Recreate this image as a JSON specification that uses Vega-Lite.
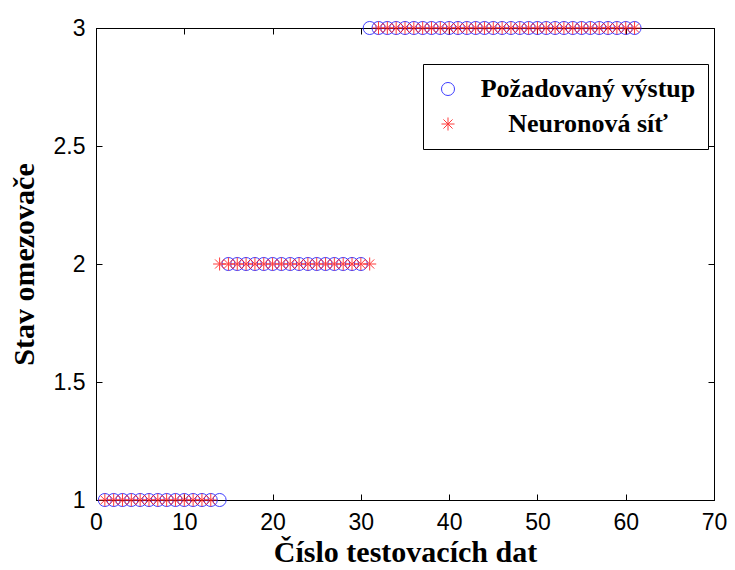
{
  "$schema": "https://vega.github.io/schema/vega-lite/v6.json",
  "width": 618,
  "height": 472,
  "autosize": {"type": "none"},
  "padding": {"left": 96, "top": 28, "right": 21, "bottom": 70},
  "background": "white",
  "config": {
    "view": {"stroke": "black", "strokeWidth": 1},
    "axis": {
      "grid": false,
      "domainColor": "black",
      "tickColor": "black",
      "tickSize": -6,
      "labelFont": "Liberation Sans",
      "labelFontSize": 23,
      "labelColor": "black",
      "titleFont": "Liberation Serif",
      "titleFontWeight": "bold",
      "titleFontSize": 30,
      "titleColor": "black"
    },
    "legend": {
      "orient": "none",
      "legendX": 327,
      "legendY": 36,
      "strokeColor": "black",
      "fillColor": "white",
      "padding": 12,
      "rowPadding": 9,
      "labelFont": "Liberation Serif",
      "labelFontWeight": "bold",
      "labelFontSize": 26,
      "labelColor": "black",
      "labelAlign": "center",
      "labelOffset": 127,
      "symbolSize": 170,
      "symbolStrokeWidth": 1,
      "labelLimit": 400
    }
  },
  "data": {
    "values": [
      {"x":1,"y":1,"s":"Požadovaný výstup"},{"x":2,"y":1,"s":"Požadovaný výstup"},{"x":3,"y":1,"s":"Požadovaný výstup"},{"x":4,"y":1,"s":"Požadovaný výstup"},{"x":5,"y":1,"s":"Požadovaný výstup"},{"x":6,"y":1,"s":"Požadovaný výstup"},{"x":7,"y":1,"s":"Požadovaný výstup"},{"x":8,"y":1,"s":"Požadovaný výstup"},{"x":9,"y":1,"s":"Požadovaný výstup"},{"x":10,"y":1,"s":"Požadovaný výstup"},{"x":11,"y":1,"s":"Požadovaný výstup"},{"x":12,"y":1,"s":"Požadovaný výstup"},{"x":13,"y":1,"s":"Požadovaný výstup"},{"x":14,"y":1,"s":"Požadovaný výstup"},
      {"x":15,"y":2,"s":"Požadovaný výstup"},{"x":16,"y":2,"s":"Požadovaný výstup"},{"x":17,"y":2,"s":"Požadovaný výstup"},{"x":18,"y":2,"s":"Požadovaný výstup"},{"x":19,"y":2,"s":"Požadovaný výstup"},{"x":20,"y":2,"s":"Požadovaný výstup"},{"x":21,"y":2,"s":"Požadovaný výstup"},{"x":22,"y":2,"s":"Požadovaný výstup"},{"x":23,"y":2,"s":"Požadovaný výstup"},{"x":24,"y":2,"s":"Požadovaný výstup"},{"x":25,"y":2,"s":"Požadovaný výstup"},{"x":26,"y":2,"s":"Požadovaný výstup"},{"x":27,"y":2,"s":"Požadovaný výstup"},{"x":28,"y":2,"s":"Požadovaný výstup"},{"x":29,"y":2,"s":"Požadovaný výstup"},{"x":30,"y":2,"s":"Požadovaný výstup"},
      {"x":31,"y":3,"s":"Požadovaný výstup"},{"x":32,"y":3,"s":"Požadovaný výstup"},{"x":33,"y":3,"s":"Požadovaný výstup"},{"x":34,"y":3,"s":"Požadovaný výstup"},{"x":35,"y":3,"s":"Požadovaný výstup"},{"x":36,"y":3,"s":"Požadovaný výstup"},{"x":37,"y":3,"s":"Požadovaný výstup"},{"x":38,"y":3,"s":"Požadovaný výstup"},{"x":39,"y":3,"s":"Požadovaný výstup"},{"x":40,"y":3,"s":"Požadovaný výstup"},{"x":41,"y":3,"s":"Požadovaný výstup"},{"x":42,"y":3,"s":"Požadovaný výstup"},{"x":43,"y":3,"s":"Požadovaný výstup"},{"x":44,"y":3,"s":"Požadovaný výstup"},{"x":45,"y":3,"s":"Požadovaný výstup"},{"x":46,"y":3,"s":"Požadovaný výstup"},{"x":47,"y":3,"s":"Požadovaný výstup"},{"x":48,"y":3,"s":"Požadovaný výstup"},{"x":49,"y":3,"s":"Požadovaný výstup"},{"x":50,"y":3,"s":"Požadovaný výstup"},{"x":51,"y":3,"s":"Požadovaný výstup"},{"x":52,"y":3,"s":"Požadovaný výstup"},{"x":53,"y":3,"s":"Požadovaný výstup"},{"x":54,"y":3,"s":"Požadovaný výstup"},{"x":55,"y":3,"s":"Požadovaný výstup"},{"x":56,"y":3,"s":"Požadovaný výstup"},{"x":57,"y":3,"s":"Požadovaný výstup"},{"x":58,"y":3,"s":"Požadovaný výstup"},{"x":59,"y":3,"s":"Požadovaný výstup"},{"x":60,"y":3,"s":"Požadovaný výstup"},{"x":61,"y":3,"s":"Požadovaný výstup"},
      {"x":1,"y":1,"s":"Neuronová síť"},{"x":2,"y":1,"s":"Neuronová síť"},{"x":3,"y":1,"s":"Neuronová síť"},{"x":4,"y":1,"s":"Neuronová síť"},{"x":5,"y":1,"s":"Neuronová síť"},{"x":6,"y":1,"s":"Neuronová síť"},{"x":7,"y":1,"s":"Neuronová síť"},{"x":8,"y":1,"s":"Neuronová síť"},{"x":9,"y":1,"s":"Neuronová síť"},{"x":10,"y":1,"s":"Neuronová síť"},{"x":11,"y":1,"s":"Neuronová síť"},{"x":12,"y":1,"s":"Neuronová síť"},{"x":13,"y":1,"s":"Neuronová síť"},
      {"x":14,"y":2,"s":"Neuronová síť"},{"x":15,"y":2,"s":"Neuronová síť"},{"x":16,"y":2,"s":"Neuronová síť"},{"x":17,"y":2,"s":"Neuronová síť"},{"x":18,"y":2,"s":"Neuronová síť"},{"x":19,"y":2,"s":"Neuronová síť"},{"x":20,"y":2,"s":"Neuronová síť"},{"x":21,"y":2,"s":"Neuronová síť"},{"x":22,"y":2,"s":"Neuronová síť"},{"x":23,"y":2,"s":"Neuronová síť"},{"x":24,"y":2,"s":"Neuronová síť"},{"x":25,"y":2,"s":"Neuronová síť"},{"x":26,"y":2,"s":"Neuronová síť"},{"x":27,"y":2,"s":"Neuronová síť"},{"x":28,"y":2,"s":"Neuronová síť"},{"x":29,"y":2,"s":"Neuronová síť"},{"x":30,"y":2,"s":"Neuronová síť"},{"x":31,"y":2,"s":"Neuronová síť"},
      {"x":32,"y":3,"s":"Neuronová síť"},{"x":33,"y":3,"s":"Neuronová síť"},{"x":34,"y":3,"s":"Neuronová síť"},{"x":35,"y":3,"s":"Neuronová síť"},{"x":36,"y":3,"s":"Neuronová síť"},{"x":37,"y":3,"s":"Neuronová síť"},{"x":38,"y":3,"s":"Neuronová síť"},{"x":39,"y":3,"s":"Neuronová síť"},{"x":40,"y":3,"s":"Neuronová síť"},{"x":41,"y":3,"s":"Neuronová síť"},{"x":42,"y":3,"s":"Neuronová síť"},{"x":43,"y":3,"s":"Neuronová síť"},{"x":44,"y":3,"s":"Neuronová síť"},{"x":45,"y":3,"s":"Neuronová síť"},{"x":46,"y":3,"s":"Neuronová síť"},{"x":47,"y":3,"s":"Neuronová síť"},{"x":48,"y":3,"s":"Neuronová síť"},{"x":49,"y":3,"s":"Neuronová síť"},{"x":50,"y":3,"s":"Neuronová síť"},{"x":51,"y":3,"s":"Neuronová síť"},{"x":52,"y":3,"s":"Neuronová síť"},{"x":53,"y":3,"s":"Neuronová síť"},{"x":54,"y":3,"s":"Neuronová síť"},{"x":55,"y":3,"s":"Neuronová síť"},{"x":56,"y":3,"s":"Neuronová síť"},{"x":57,"y":3,"s":"Neuronová síť"},{"x":58,"y":3,"s":"Neuronová síť"},{"x":59,"y":3,"s":"Neuronová síť"},{"x":60,"y":3,"s":"Neuronová síť"},{"x":61,"y":3,"s":"Neuronová síť"}
    ]
  },
  "layer": [
    {
      "mark": {"type": "point", "filled": false, "size": 170, "strokeWidth": 1, "clip": false, "opacity": 0.85},
      "encoding": {
        "x": {"field": "x", "type": "quantitative", "scale": {"domain": [0, 70], "nice": false, "zero": false},
              "axis": {"title": "Číslo testovacích dat", "values": [0,10,20,30,40,50,60,70], "labelPadding": 17, "titlePadding": 3, "labelFlush": false}},
        "y": {"field": "y", "type": "quantitative", "scale": {"domain": [1, 3], "nice": false, "zero": false},
              "axis": {"title": "Stav omezovače", "values": [1,1.5,2,2.5,3], "format": "~g", "labelPadding": 17, "titlePadding": 14, "labelFlush": false}},
        "color": {"field": "s", "type": "nominal", "sort": ["Požadovaný výstup", "Neuronová síť"],
                  "scale": {"domain": ["Požadovaný výstup", "Neuronová síť"], "range": ["#1f1fff", "#ff1a1a"]}, "legend": {"title": null}},
        "shape": {"field": "s", "type": "nominal", "sort": ["Požadovaný výstup", "Neuronová síť"],
                  "scale": {"domain": ["Požadovaný výstup", "Neuronová síť"], "range": ["circle", "M-1,0L1,0M0,-1L0,1M-0.7,-0.7L0.7,0.7M-0.7,0.7L0.7,-0.7"]}, "legend": {"title": null}}
      }
    },
    {
      "mark": {"type": "rule", "opacity": 0},
      "encoding": {
        "x": {"field": "x", "type": "quantitative", "aggregate": "min",
              "axis": {"orient": "top", "title": null, "labels": false, "values": [0,10,20,30,40,50,60,70]}},
        "y": {"field": "y", "type": "quantitative", "aggregate": "min",
              "axis": {"orient": "right", "title": null, "labels": false, "values": [1,1.5,2,2.5,3]}}
      }
    }
  ],
  "resolve": {"axis": {"x": "independent", "y": "independent"}}
}
